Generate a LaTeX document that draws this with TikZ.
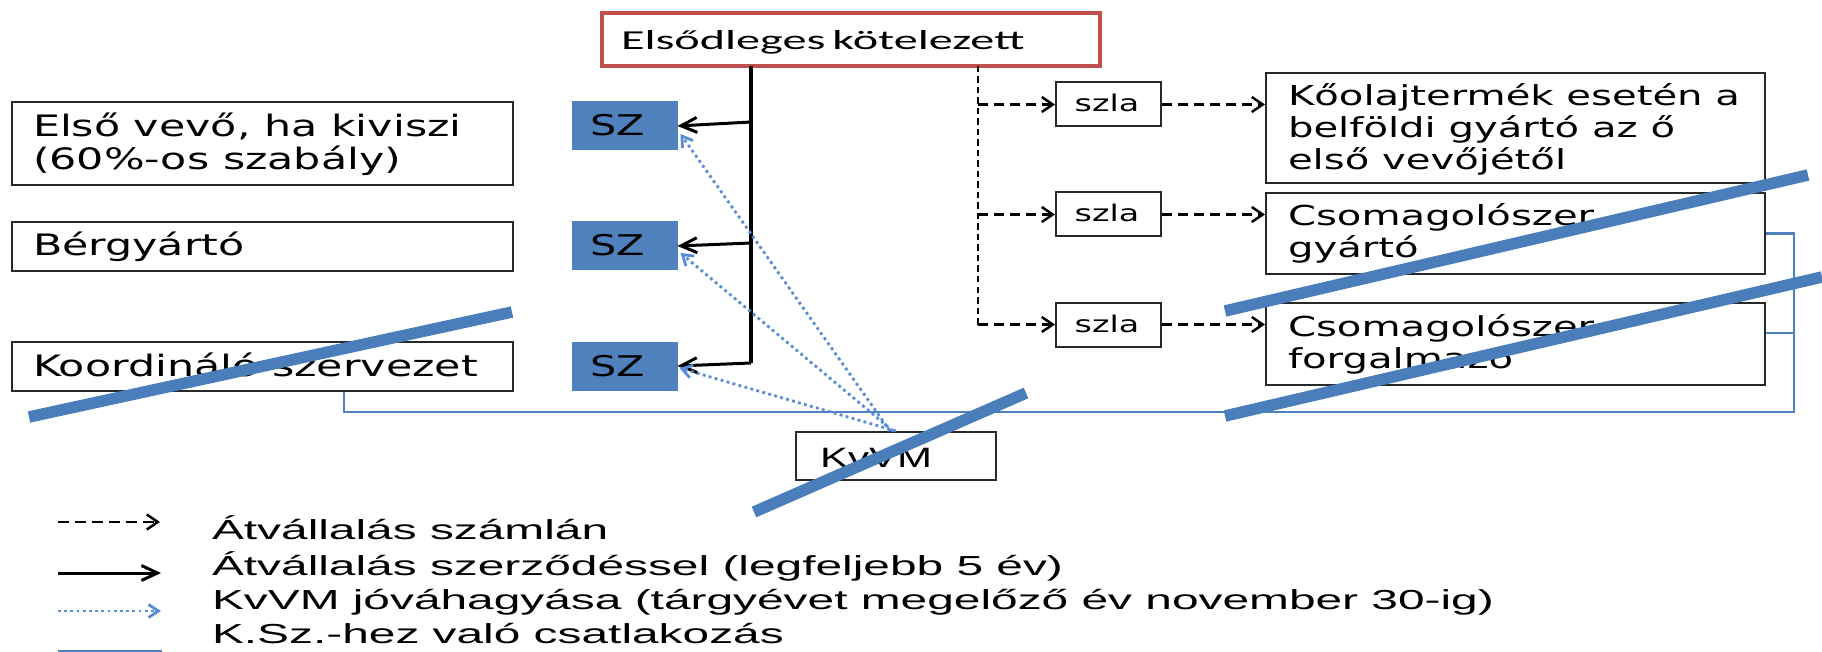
\documentclass[tikz,border=0pt]{standalone}
\usepackage{fontspec}
\usetikzlibrary{arrows.meta}
\newfontfamily\boxfont[FakeStretch=1.45]{DejaVu Sans}
\newfontfamily\rboxfont[FakeStretch=1.46]{DejaVu Sans}
\newfontfamily\legfont[FakeStretch=1.74]{Liberation Sans}
\newfontfamily\kvfont[FakeStretch=1.5]{Liberation Sans}
\newfontfamily\calfont[FakeStretch=1.76]{Carlito}
\definecolor{ofblue}{RGB}{79,129,189}
\definecolor{slashblue}{RGB}{74,126,187}
\definecolor{dotblue}{RGB}{88,140,212}
\definecolor{ofred}{RGB}{192,80,77}
\definecolor{boxline}{RGB}{40,40,40}
\begin{document}
\begin{tikzpicture}[x=1pt,y=-1pt,
  box/.style={draw=boxline, line width=2pt, rectangle, inner sep=0pt, fill=white},
  szbox/.style={draw=ofblue, line width=1pt, fill=ofblue, rectangle, inner sep=0pt},
  primbox/.style={draw=ofred, line width=3.2pt, rectangle, inner sep=0pt, fill=white},
  txt/.style={inner sep=0pt, outer sep=0pt, anchor=base west, text=black},
  ctxt/.style={inner sep=0pt, outer sep=0pt, anchor=base, text=black},
  bfont/.style={font=\boxfont\fontsize{29.5pt}{32pt}\selectfont},
  rfont/.style={font=\rboxfont\fontsize{27.5pt}{32pt}\selectfont},
  szfont/.style={font=\boxfont\fontsize{28.5pt}{32pt}\selectfont},
  sfont/.style={font=\boxfont\fontsize{23pt}{26pt}\selectfont},
  lfont/.style={font=\legfont\fontsize{27.5pt}{30pt}\selectfont},
  blk/.style={draw=black, line width=3pt, -{Straight Barb[length=16pt,width=15pt]}},
  blkline/.style={draw=black, line width=3.2pt},
  dashh/.style={draw=black, line width=2.5pt, dash pattern=on 10pt off 6pt},
  dashv/.style={draw=black, line width=2.5pt, dash pattern=on 6.5pt off 4pt},
  dasharr/.style={dashh, -{Straight Barb[length=11pt,width=15pt]}},
  dotarr/.style={draw=dotblue, line width=2.8pt, dash pattern=on 2.8pt off 3.4pt, -{Straight Barb[length=10pt,width=13pt]}},
  kline/.style={draw=ofblue, line width=2.8pt},
  slash/.style={draw=slashblue, line width=11.5pt}]
\useasboundingbox (0,0) rectangle (1822,652);
\fill[white] (0,0) rectangle (1822,652);

% ---- boxes ----
\node[primbox, minimum width=498pt, minimum height=53pt] (prim) at (851,39.5) {};
\node[box, minimum width=501pt, minimum height=83pt] (evo) at (262.5,143.5) {};
\node[box, minimum width=501pt, minimum height=49pt] (berg) at (262.5,246.5) {};
\node[box, minimum width=501pt, minimum height=49pt] (koord) at (262.5,366.5) {};
\node[szbox, minimum width=105pt, minimum height=48pt] (sz1) at (624.5,126) {};
\node[szbox, minimum width=105pt, minimum height=48pt] (sz2) at (624.5,246) {};
\node[szbox, minimum width=105pt, minimum height=48pt] (sz3) at (624.5,366) {};
\node[box, minimum width=105pt, minimum height=44pt] (szla1) at (1108.5,104.5) {};
\node[box, minimum width=105pt, minimum height=44pt] (szla2) at (1108.5,214.5) {};
\node[box, minimum width=105pt, minimum height=44pt] (szla3) at (1108.5,324.5) {};
\node[box, minimum width=499pt, minimum height=110pt] (kool) at (1515.5,128) {};
\node[box, minimum width=499pt, minimum height=81pt] (csg) at (1515.5,233.5) {};
\node[box, minimum width=499pt, minimum height=82pt] (csf) at (1515.5,344) {};
\node[box, minimum width=200pt, minimum height=48pt] (kvvm) at (896,456) {};

% ---- texts ----
\node[txt, font=\calfont\fontsize{27.4pt}{30pt}\selectfont] (tprim) at (621,49.5) {Elsődleges\hspace{7pt}kötelezett};
\node[txt, bfont] (tevo1) at (33,137) {Első vevő, ha kiviszi};
\node[txt, bfont] (tevo2) at (33,170) {(60\%-os szabály)};
\node[txt, bfont] (tberg) at (33,256) {Bérgyártó};
\node[txt, bfont] (tkoord) at (33,376) {Koordináló szervezet};
\node[ctxt, szfont] (tsz1) at (618,136) {SZ};
\node[ctxt, szfont] (tsz2) at (618,256) {SZ};
\node[ctxt, szfont] (tsz3) at (618,376) {SZ};
\node[ctxt, sfont] (tszla1) at (1107,112) {szla};
\node[ctxt, sfont] (tszla2) at (1107,222) {szla};
\node[ctxt, sfont] (tszla3) at (1107,332) {szla};
\node[txt, rfont] (tkool1) at (1288,106) {Kőolajtermék esetén a};
\node[txt, rfont] (tkool2) at (1288,138) {belföldi gyártó az ő};
\node[txt, rfont] (tkool3) at (1288,170) {első vevőjétől};
\node[txt, rfont] (tcsg1) at (1288,226) {Csomagolószer};
\node[txt, rfont] (tcsg2) at (1288,258) {gyártó};
\node[txt, rfont] (tcsf1) at (1288,336) {Csomagolószer};
\node[txt, rfont] (tcsf2) at (1288,368) {forgalmazó};
\node[txt, font=\kvfont\fontsize{28pt}{32pt}\selectfont] (tkvvm) at (820,467) {KvVM};

% ---- solid contract arrows ----
\coordinate (vtop) at (751,66);
\coordinate (j1) at (751,122);
\coordinate (j2) at (751,243);
\coordinate (j3) at (751,363);
\draw[blkline] (vtop) -- (j3);
\draw[blk] (j1) -- (sz1.east);
\draw[blk] (j2) -- (sz2.east);
\draw[blk] (j3) -- (sz3.east);

% ---- dashed invoice arrows ----
\coordinate (dtop) at (978,66);
\coordinate (d1) at (978,104.5);
\coordinate (d2) at (978,214.5);
\coordinate (d3) at (978,324.5);
\draw[dashv] (dtop) -- (d3);
\draw[dasharr] (d1) -- (szla1.west);
\draw[dasharr] (d2) -- (szla2.west);
\draw[dasharr] (d3) -- (szla3.west);
\draw[dasharr] (szla1.east) -- (szla1.east -| kool.west);
\draw[dasharr] (szla2.east) -- (szla2.east -| csg.west);
\draw[dasharr] (szla3.east) -- (szla3.east -| csf.west);

% ---- K.Sz. connection ----
\coordinate (kb1) at (344,412);
\coordinate (kb2) at (1794,412);
\coordinate (kb3) at (1794,233.5);
\coordinate (kb4) at (1794,333);
\draw[kline] ([xshift=81.5pt]koord.south) -- (kb1) -- (kb2) -- (kb3) -- (kb3 -| csg.east);
\draw[kline] (kb4) -- (kb4 -| csf.east);

% ---- KvVM approval (dotted) ----
\draw[dotarr] ([xshift=-6pt]kvvm.north) -- ([xshift=3pt,yshift=-8pt]sz1.east);
\draw[dotarr] ([xshift=-3pt]kvvm.north) -- ([xshift=3pt,yshift=-7pt]sz2.east);
\draw[dotarr] (kvvm.north) -- ([xshift=2pt,yshift=-2pt]sz3.east);

% ---- legend ----
\coordinate (la1) at (58,522);  \coordinate (lb1) at (160,522);
\coordinate (la2) at (58,573);  \coordinate (lb2) at (161,573);
\coordinate (la3) at (58,611);  \coordinate (lb3) at (161,611);
\coordinate (la4) at (58,651);  \coordinate (lb4) at (162,651);
\draw[dasharr, dash pattern=on 11pt off 6pt] (la1) -- (lb1);
\draw[blk] (la2) -- (lb2);
\draw[dotarr] (la3) -- (lb3);
\draw[kline] (la4) -- (lb4);
\node[txt, lfont] (leg1) at (212,539) {Átvállalás számlán};
\node[txt, lfont] (leg2) at (212,575) {Átvállalás szerződéssel (legfeljebb 5 év)};
\node[txt, lfont] (leg3) at (212,609) {KvVM jóváhagyása (tárgyévet megelőző év november 30-ig)};
\node[txt, lfont] (leg4) at (212,643) {K.Sz.-hez való csatlakozás};

% ---- strike-through slashes ----
\draw[slash] (29,417) -- (512,312);
\draw[slash] (754,512) -- (1026,393);
\draw[slash] (1225,311) -- (1808,175);
\draw[slash] (1225,416) -- (1822,277);
\end{tikzpicture}
\end{document}
